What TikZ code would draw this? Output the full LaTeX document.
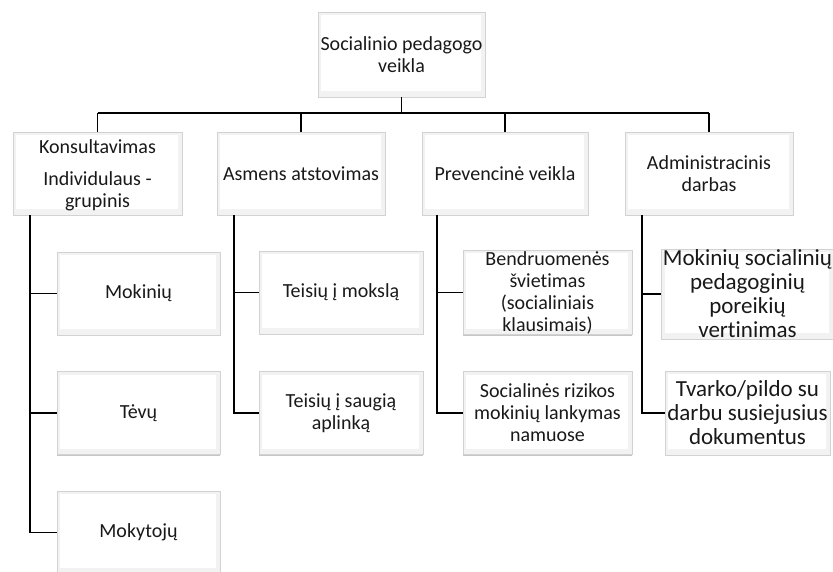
\documentclass[tikz,border=0pt]{standalone}
\usepackage{fontspec}
\setmainfont{Carlito}[Ligatures=NoCommon]
\usetikzlibrary{shadows}
\begin{document}
\begin{tikzpicture}[x=1pt,y=1pt,
  card/.style={draw=gray!35, line width=0.7pt, fill=white, align=center,
    inner sep=1pt, text=black!90,
    drop shadow={shadow xshift=0.3pt, shadow yshift=-1.1pt, opacity=0.45, fill=gray},
    path picture={
      \fill[gray!10] (path picture bounding box.south west) rectangle (path picture bounding box.north east);
      \fill[white] ([xshift=3pt,yshift=-3pt]path picture bounding box.north west)
        rectangle ([xshift=-4pt,yshift=6pt]path picture bounding box.south east);
    }},
  big/.style={card, font=\fontsize{20}{22}\selectfont},
  large/.style={card, font=\fontsize{23}{24}\selectfont},
  link/.style={draw=black, line width=1.1pt}
]
\useasboundingbox (0,0) rectangle (833,-571);

% root
\node[big, minimum width=167, minimum height=85] (root) at (401.5,-54.5)
  {Socialinio pedagogo\\veikla};

% first level
\node[big, minimum width=169, minimum height=83] (kons) at (97.5,-173.5)
  {\rule{0pt}{17pt}Konsultavimas\\[10pt]Individulaus -\\grupinis};
\node[big, minimum width=168, minimum height=83] (asm) at (301,-173.5)
  {Asmens atstovimas};
\node[big, minimum width=166, minimum height=83] (prev) at (505,-173.5)
  {Prevencinė veikla};
\node[big, minimum width=168, minimum height=83] (adm) at (709,-173.5)
  {Administracinis\\darbas};

% second level: Konsultavimas
\node[big, minimum width=163, minimum height=83] (kmok) at (138.5,-293.5) {Mokinių};
\node[big, minimum width=163, minimum height=83] (ktev) at (138.5,-413) {Tėvų};
\node[big, minimum width=163, minimum height=83] (kmkt) at (138.5,-532.5) {Mokytojų};

% second level: Asmens atstovimas
\node[big, minimum width=164, minimum height=83] (amok) at (341,-292.5) {Teisių į mokslą};
\node[big, minimum width=164, minimum height=83] (asaug) at (341,-413)
  {Teisių į saugią\\aplinką};

% second level: Prevencinė veikla
\node[big, minimum width=169, minimum height=83] (pben) at (547.5,-292.5)
  {Bendruomenės\\švietimas\\(socialiniais\\klausimais)};
\node[big, minimum width=169, minimum height=83] (psoc) at (547.5,-413)
  {Socialinės rizikos\\mokinių lankymas\\namuose};

% second level: Administracinis darbas
\node[large, minimum width=165, minimum height=86] (avert) at (747.5,-294)
  {Mokinių socialinių\\pedagoginių\\poreikių\\vertinimas};
\node[large, minimum width=165, minimum height=84] (adok) at (747.5,-413)
  {Tvarko/pildo su\\darbu susiejusius\\dokumentus};

% bus lines
\coordinate (bus) at (0,-113);
\coordinate (kx) at (30,0);
\coordinate (ax) at (234,0);
\coordinate (px) at (437,0);
\coordinate (dx) at (642,0);

\draw[link] (root.south) -- (root.south |- bus);
\draw[link] (kons.north |- bus) -- (adm.north |- bus);
\foreach \n in {kons,asm,prev,adm}
  \draw[link] (\n.north |- bus) -- (\n.north);

\draw[link] (kons.south -| kx) |- (kmkt.west);
\draw[link] (kx |- kmok.west) -- (kmok.west);
\draw[link] (kx |- ktev.west) -- (ktev.west);

\draw[link] (asm.south -| ax) |- (asaug.west);
\draw[link] (ax |- amok.west) -- (amok.west);

\draw[link] (prev.south -| px) |- (psoc.west);
\draw[link] (px |- pben.west) -- (pben.west);

\draw[link] (adm.south -| dx) |- (adok.west);
\draw[link] (dx |- avert.west) -- (avert.west);
\end{tikzpicture}
\end{document}
